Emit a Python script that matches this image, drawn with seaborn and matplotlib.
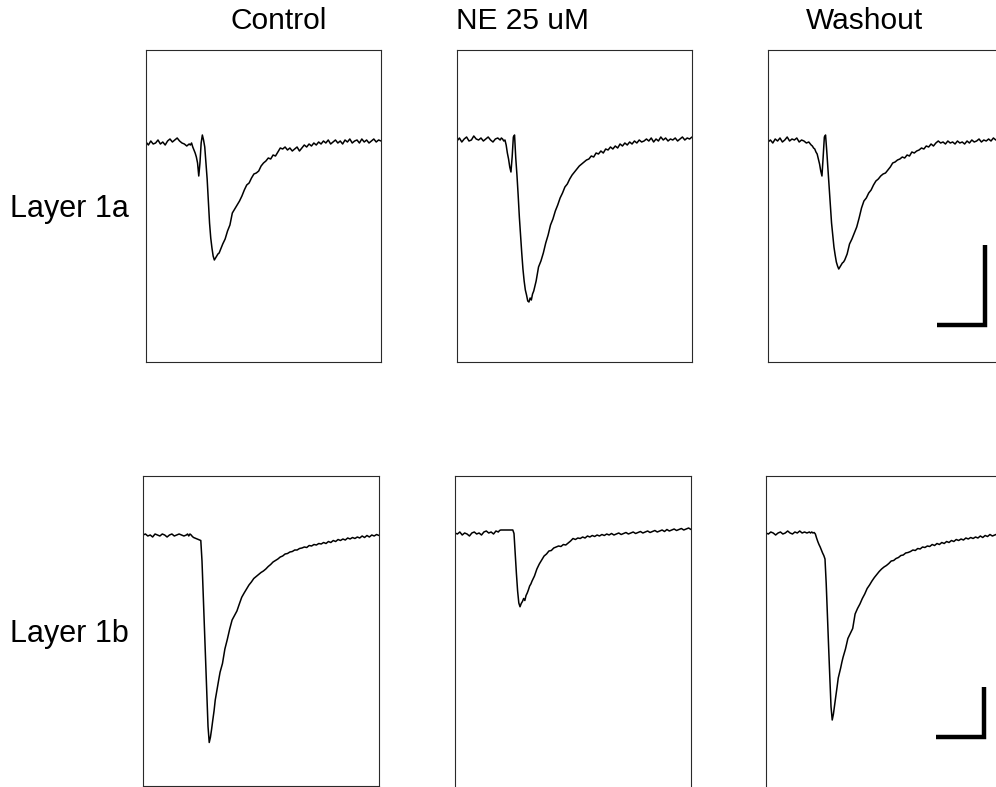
import numpy as np
import matplotlib
matplotlib.use("Agg")
import matplotlib.pyplot as plt
import seaborn as sns

sns.set_style("white")
plt.rcParams["font.family"] = ["Liberation Sans", "DejaVu Sans"]
plt.rcParams["text.color"] = "black"

# Sampling grid (ms): finer steps around the stimulus and response onset
t_ms = np.concatenate([np.arange(0, 18, 1.0),
                       np.arange(18, 32, 0.5),
                       np.arange(32, 99, 1.0)])

conditions = ["Control", "NE 25 uM", "Washout"]
layers = ["Layer 1a", "Layer 1b"]

# Layer 1a currents (pA)
ctrl_1a = [
    1, -2, 2, -1, 0, 3, -1, 1, -2, 2, 4, 1, 3, 5, 2, 0, -1, -3,
    -1, -2, 0, -4, -7, -10, -14, -20, -33, -20,
    0, 8, 3, -4, -20, -36, -58, -80, -95, -105,
    -113, -117, -115, -113, -111, -110, -107, -104,
    -101, -96, -88, -82, -70, -66, -62, -58, -53, -47,
    -42, -40, -35, -31, -30, -28, -23, -20, -18, -15,
    -16, -12, -13, -9, -5, -6, -4, -7, -5, -8,
    -6, -4, -8, -5, -2, -4, -1, -3, 0, -2,
    1, -1, 2, 0, 3, -1, 1, 3, 0, 2,
    -1, 3, 1, 4, 0, 2, 3, 0, 4, 1,
    3, 0, 2, 4, 1, 3, 2,
]
ne_1a = [
    2, 5, 1, 4, 6, 2, 3, 7, 4, 3, 5, 2, 4, 6, 3, 1, 4, 5,
    3, 5, 4, 2, 3, -2, -10, -16, -24, -29,
    -14, 6, 8, -15, -32, -52, -74, -92, -110, -126,
    -138, -147, -152, -158, -159, -155, -157, -151,
    -148, -138, -124, -118, -110, -100, -92, -82, -76, -68,
    -62, -55, -50, -44, -41, -36, -32, -29, -26, -23,
    -21, -19, -17, -16, -13, -14, -10, -11, -8, -10,
    -6, -7, -4, -6, -3, -5, -1, -3, 0, -2,
    1, -1, 2, 0, 3, 1, 2, 4, 2, 5,
    1, 4, 2, 6, 3, 5, 2, 4, 3, 5,
    2, 4, 6, 3, 5, 4, 6,
]
wash_1a = [
    1, 3, 0, 4, 2, 5, 1, 3, 6, 2, 4, 3, 5, 1, 3, 2, 0, 1,
    -2, -3, -5, -6, -9, -11, -16, -21, -28, -33,
    -14, 6, 8, -8, -26, -44, -62, -80, -92, -104,
    -112, -119, -123, -126, -124, -122, -120, -119,
    -117, -111, -101, -96, -90, -84, -75, -65, -58, -55,
    -50, -47, -42, -38, -36, -33, -31, -30, -27, -24,
    -20, -19, -17, -16, -14, -15, -12, -13, -9, -10,
    -8, -7, -5, -6, -3, -4, -1, -3, 0, 2,
    0, 1, -1, 2, 0, 1, -1, 2, 0, 1,
    -1, 2, 0, 3, 1, 2, 4, 1, 3, 2,
    4, 2, 5, 3, 5, 4, 5,
]

# Layer 1b currents (pA)
ctrl_1b = [
    4, 8, 0, 4, -4, 8, 4, 0, 8, 4, -4, 4, 8, 0, 4, 8, 4, 0,
    4, 8, 0, 8, 4, -2, -6, -8, -10, -12,
    -14, -16, -18, -100, -232, -365, -497, -630, -762, -826,
    -805, -772, -735, -700, -656, -628, -600, -572,
    -545, -510, -452, -414, -372, -336, -318, -300, -272, -245,
    -228, -212, -196, -184, -170, -162, -154, -146, -140, -132,
    -122, -114, -104, -98, -92, -84, -80, -72, -70, -64,
    -62, -56, -56, -50, -48, -44, -46, -38, -40, -34,
    -36, -30, -32, -26, -30, -22, -26, -18, -22, -14,
    -18, -12, -16, -8, -12, -6, -10, -4, -8, 0,
    -6, 2, -4, 4, 0, 6, 2,
]
ne_1b = [
    12, 8, 16, 4, 12, 8, 0, 12, 16, 8, 12, 4, 16, 20, 12, 16, 8, 20,
    16, 22, 24, 24, 24, 24, 24, 24, 24, 24,
    24, 24, 24, 10, -70, -150, -220, -268, -283, -270,
    -262, -250, -258, -238, -228, -215, -200, -192,
    -180, -160, -132, -112, -96, -80, -72, -60, -58, -48,
    -44, -40, -42, -34, -36, -28, -20, -10, -14, -8,
    -10, -4, -8, 0, -4, 2, -2, 4, 0, 6,
    2, 8, 4, 10, 4, 8, 12, 6, 10, 14,
    8, 12, 16, 10, 14, 18, 12, 16, 20, 14,
    18, 22, 16, 20, 24, 18, 26, 20, 24, 28,
    22, 26, 30, 24, 28, 32, 26,
]
wash_1b = [
    12, 8, 16, 12, 4, 12, 16, 8, 12, 20, 12, 8, 16, 12, 20, 12, 16, 12,
    16, 12, 16, 12, 14, 8, -8, -22, -34, -44,
    -56, -68, -78, -92, -190, -316, -443, -565, -683, -736,
    -712, -676, -640, -605, -568, -548, -528, -505,
    -485, -452, -410, -390, -370, -312, -290, -272, -250, -232,
    -210, -196, -180, -166, -154, -142, -132, -124, -118, -110,
    -100, -98, -90, -86, -78, -76, -68, -66, -62, -56,
    -58, -50, -52, -44, -46, -40, -42, -34, -38, -30,
    -34, -26, -30, -22, -26, -18, -22, -14, -18, -12,
    -16, -8, -12, -6, -10, -4, -8, 0, -6, 2,
    -2, 6, 0, 4, 8, 2, 6,
]

traces = [[ctrl_1a, ne_1a, wash_1a], [ctrl_1b, ne_1b, wash_1b]]

W, H = 996, 787
fig = plt.figure(figsize=(W / 100, H / 100), dpi=100)


def panel(left, top, width, height):
    return fig.add_axes([left / W, 1 - (top + height) / H, width / W, height / H])


row_boxes = [
    [(146, 50, 235, 312), (457, 50, 235, 312), (768, 50, 235, 312)],
    [(143, 476, 236, 310), (455, 476, 236, 310), (766, 476, 236, 310)],
]
row_ylims = [(-219, 93), (-1000, 240)]
# scale bars: 20 ms horizontal, 80 pA (layer 1a) / 200 pA (layer 1b) vertical
bar_ms = 20
bar_pa = [80, 200]
bar_corner = [(90.4, -182), (90.4, -804)]

for r in range(2):
    for c in range(3):
        ax = panel(*row_boxes[r][c])
        sns.lineplot(x=t_ms, y=np.asarray(traces[r][c], dtype=float), ax=ax,
                     color="black", linewidth=1.1, estimator=None, sort=False)
        ax.set_xlim(0, 98)
        ax.set_ylim(*row_ylims[r])
        ax.set_xticks([])
        ax.set_yticks([])
        ax.set_xlabel("")
        ax.set_ylabel("")
        for s in ax.spines.values():
            s.set_visible(True)
            s.set_color("#2a2a2a")
            s.set_linewidth(0.8)
        if r == 1 and c > 0:
            ax.spines["bottom"].set_visible(False)
        if c == 2:
            bx, by = bar_corner[r]
            ax.plot([bx - bar_ms, bx, bx], [by, by, by + bar_pa[r]],
                    color="black", linewidth=3.2,
                    solid_joinstyle="miter", solid_capstyle="butt")

# Column titles and row labels
title_x = [279, 522, 864]
for name, x in zip(conditions, title_x):
    fig.text(x / W, 1 - 21 / H, name, ha="center", va="center",
             fontsize=21.5, color="black")
for name, y in zip(layers, [209, 634]):
    fig.text(10 / W, 1 - y / H, name, ha="left", va="center",
             fontsize=22, color="black")

fig.savefig("out.png", dpi=100)
